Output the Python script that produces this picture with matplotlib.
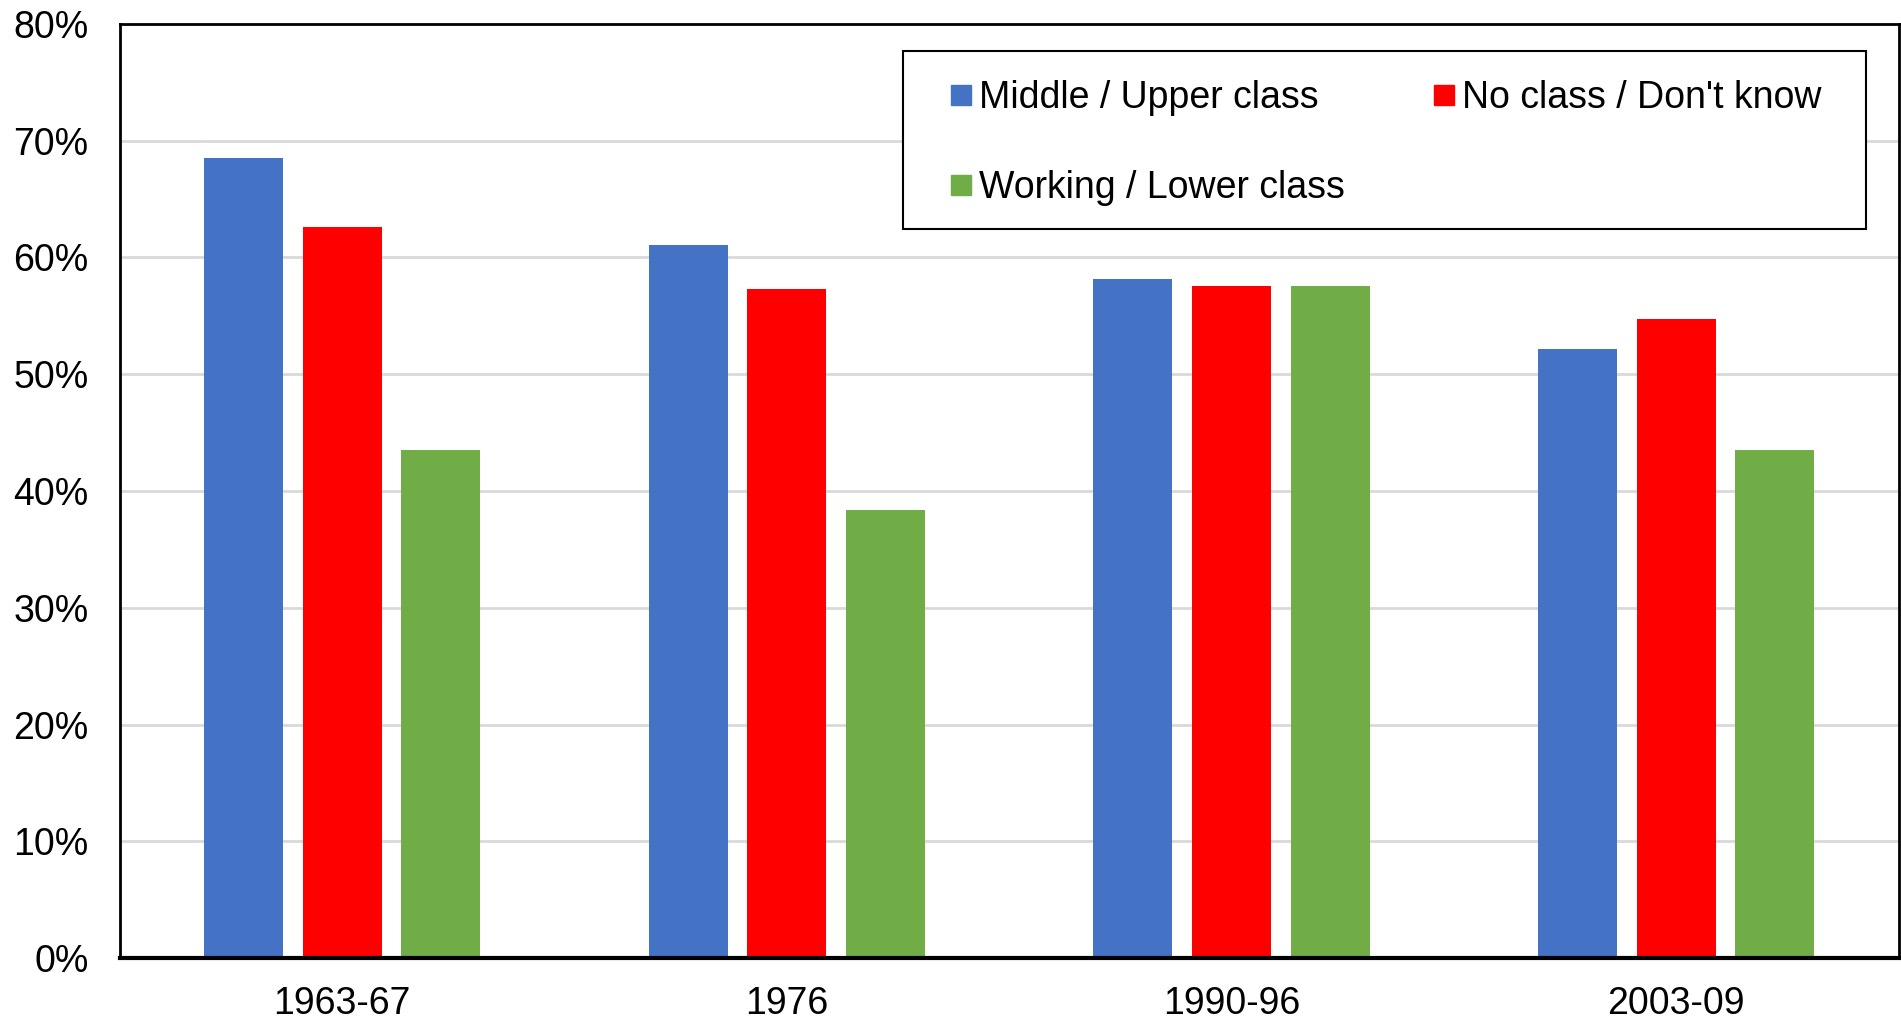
import numpy as np
import matplotlib.pyplot as plt
from matplotlib.lines import Line2D
from matplotlib.patches import Rectangle
from matplotlib.ticker import FuncFormatter

plt.rcParams['font.family'] = ['Liberation Sans', 'DejaVu Sans']

periods = ["1963-67", "1976", "1990-96", "2003-09"]
middle_upper = [68.5, 61.1, 58.2, 52.2]
no_class = [62.6, 57.3, 57.6, 54.7]
working_lower = [43.5, 38.4, 57.6, 43.5]

series = [("Middle / Upper class", middle_upper, "#4472c4"),
          ("No class / Don't know", no_class, "#ff0000"),
          ("Working / Lower class", working_lower, "#70ad47")]

fig = plt.figure(figsize=(19.01, 10.21), dpi=100)
ax = fig.add_axes([0.0631, 0.0617, 0.9356, 0.9148])

x = np.arange(len(periods))
width = 0.1777
pitch = 0.222
for i, (name, vals, col) in enumerate(series):
    ax.bar(x + (i - 1) * pitch, vals, width, color=col, zorder=3)

ax.set_xlim(-0.5, len(periods) - 0.5)
ax.set_ylim(0, 80)
ax.set_yticks(np.arange(0, 81, 10))
ax.yaxis.set_major_formatter(FuncFormatter(lambda v, p: "%d%%" % v))
ax.set_xticks(x)
ax.set_xticklabels(periods)
ax.tick_params(axis='both', length=0, labelsize=27)
ax.tick_params(axis='y', pad=22.5)
ax.tick_params(axis='x', pad=20)
ax.grid(axis='y', color='#d9d9d9', linewidth=2, zorder=0)

for s in ['top', 'left', 'right']:
    ax.spines[s].set_linewidth(2)
    ax.spines[s].set_color('black')
ax.spines['bottom'].set_linewidth(3)
ax.spines['bottom'].set_zorder(5)

# legend box drawn by hand, entries ordered to read row by row
box = Rectangle((0.4402, 0.7805), 0.5414, 0.1906, transform=ax.transAxes,
                facecolor='white', edgecolor='black', linewidth=1.5, zorder=9)
ax.add_patch(box)
order = [0, 2, 1]
handles = [Line2D([], [], marker='s', linestyle='none', markersize=15,
                  color=series[k][2]) for k in order]
labels = [series[k][0] for k in order]
leg = ax.legend(handles, labels, ncol=2, loc='upper left',
                bbox_to_anchor=(0.4666, 0.9404), fontsize=27,
                frameon=False, borderpad=0, labelspacing=1.44,
                handletextpad=0.17, columnspacing=2.35, handlelength=0.6,
                borderaxespad=0)
leg.set_zorder(10)

fig.savefig("out.png", dpi=100, facecolor='white')
